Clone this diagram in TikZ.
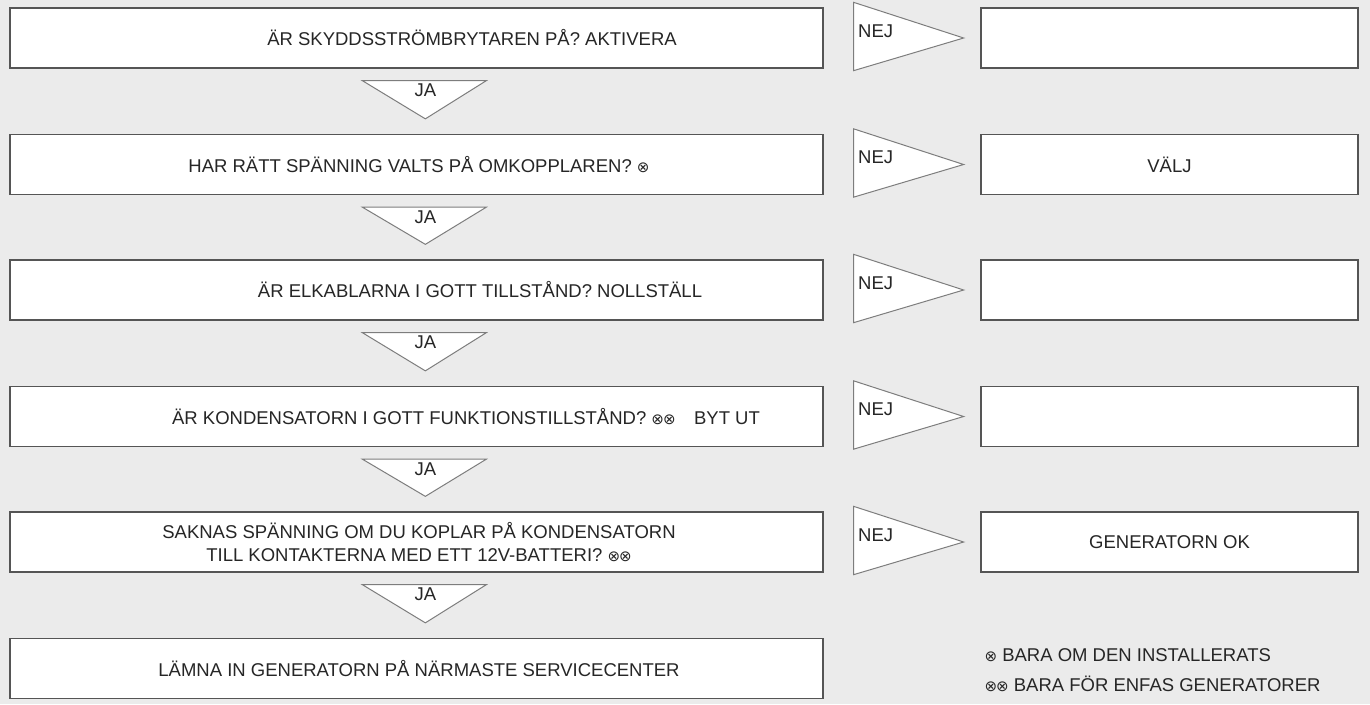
\documentclass[tikz,border=0pt]{standalone}
\usepackage{fontspec}
\setmainfont{Liberation Sans}
\newfontfamily\symb{DejaVu Sans}
\usetikzlibrary{calc}
\definecolor{grund}{RGB}{235,235,235}
\definecolor{rand}{RGB}{85,85,85}
\definecolor{pfeil}{RGB}{125,125,125}
\newcommand{\ein}{{\symb\fontsize{15}{15}\selectfont ⊗}}
\newcommand{\zwei}{{\symb\fontsize{15}{15}\selectfont ⊗\kern-1pt⊗}}

\tikzset{
	box/.style={draw=rand,fill=white,line width=1.3pt,minimum height=60pt,inner sep=0pt},
	links/.style={box,minimum width=813pt},
	rechts/.style={box,minimum width=377pt},
	txt/.style={font=\fontsize{18.5}{23}\selectfont,align=center,text=black!85},
	tri/.style={draw=pfeil,fill=white,line width=1pt,line join=miter},
}

\begin{document}
\begin{tikzpicture}[x=1pt,y=-1pt]
	\fill[grund] (0,0) rectangle (1370,704);
	\useasboundingbox (0,0) rectangle (1370,704);
	% Fragen links
	\node[links] (F1) at (416.5,38) {};
	\node[links] (F2) at (416.5,164.5) {};
	\node[links] (F3) at (416.5,290) {};
	\node[links] (F4) at (416.5,416.5) {};
	\node[links] (F5) at (416.5,542) {};
	\node[links] (F6) at (416.5,668.5) {};
	\node[txt] at (472,38) {ÄR SKYDDSSTRÖMBRYTAREN PÅ? AKTIVERA};
	\node[txt] at (419,164.5) {HAR RÄTT SPÄNNING VALTS PÅ OMKOPPLAREN? \ein};
	\node[txt] at (480,290) {ÄR ELKABLARNA I GOTT TILLSTÅND? NOLLSTÄLL};
	\node[txt] at (466,416.5) {ÄR KONDENSATORN I GOTT FUNKTIONSTILLSTÅND? \zwei\quad BYT UT};
	\node[txt] at (419,542) {SAKNAS SPÄNNING OM DU KOPLAR PÅ KONDENSATORN\\TILL KONTAKTERNA MED ETT 12V-BATTERI? \zwei};
	\node[txt] at (419,668.5) {LÄMNA IN GENERATORN PÅ NÄRMASTE SERVICECENTER};
	% Antworten rechts
	\node[rechts] (A1) at (1169.5,38) {};
	\node[rechts,txt] (A2) at (1169.5,164.5) {VÄLJ};
	\node[rechts] (A3) at (1169.5,290) {};
	\node[rechts] (A4) at (1169.5,416.5) {};
	\node[rechts,txt] (A5) at (1169.5,542) {GENERATORN OK};
	% JA
	\foreach \a/\b in {F1/F2,F2/F3,F3/F4,F4/F5,F5/F6} {
		\draw[tri] ($(\a.south west)+(353,12)$) -- ($(\a.south west)+(477,12)$) -- ($(\b.north west)+(416,-15)$) -- cycle;
		\node[txt,anchor=north] at ($(\a.south west)+(416,12)$) {JA};
	}
	% NEJ
	\foreach \a in {F1,F2,F3,F4,F5} {
		\draw[tri] ($(\a.north east)+(30,-5)$) -- ($(\a.east)+(140,0)$) -- ($(\a.south east)+(30,2)$) -- cycle;
		\node[txt,anchor=west] at ($(\a.east)+(31,-7)$) {NEJ};
	}
	% Fussnoten
	\node[txt,anchor=west] (N1) at (981,655) {\ein\ BARA OM DEN INSTALLERATS};
	\node[txt,anchor=west] (N2) at (981,684) {\zwei\ BARA FÖR ENFAS GENERATORER};
\end{tikzpicture}
\end{document}
